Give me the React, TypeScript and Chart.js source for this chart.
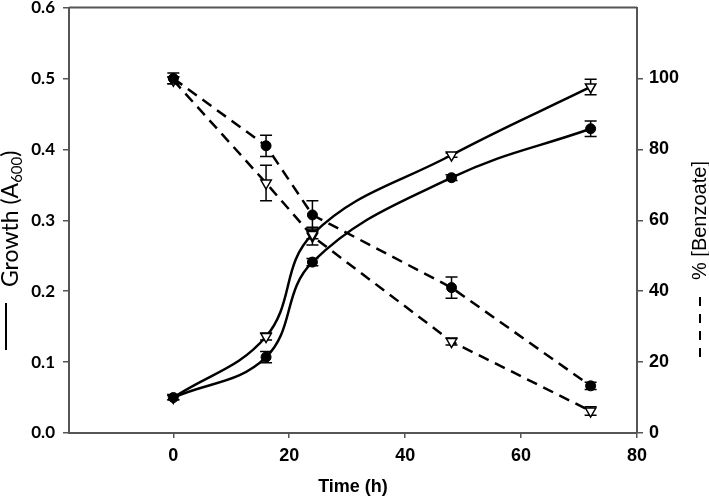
import { useEffect, useRef } from 'react';
import { Chart, registerables } from 'chart.js';

Chart.register(...registerables);

// ---- data ----
const timeHours = [0, 16, 24, 48, 72];
const xTicks = [0, 20, 40, 60, 80];
const leftTicks = [0, 0.1, 0.2, 0.3, 0.4, 0.5, 0.6];
const rightTicks = [0, 20, 40, 60, 80, 100];

const growthCircle = [0.05, 0.107, 0.241, 0.36, 0.429];
const growthCircleErr = [0.003, 0.008, 0.005, 0.004, 0.011];
const growthTriangle = [0.05, 0.136, 0.28, 0.392, 0.488];
const growthTriangleErr = [0.003, 0.005, 0.006, 0.003, 0.011];

const benzoateCircle = [100, 81, 61.5, 41, 13.3];
const benzoateCircleErr = [1.5, 3, 4, 3, 1];
const benzoateTriangle = [99.5, 70.5, 55.5, 25.8, 6.2];
const benzoateTriangleErr = [1, 5, 2.5, 1, 1.2];

const leftTitle = 'Growth (A';
const leftTitleSub = '600';
const leftTitleEnd = ')';
const rightTitle = '% [Benzoate]';
const xTitle = 'Time (h)';

const AXIS_COLOR = '#555555';

const pts = (ys: number[]) => timeHours.map((x, i) => ({ x, y: ys[i] }));

const errorBarPlugin = {
  id: 'errorBars',
  beforeDatasetsDraw(chart: any) {
    const ctx = chart.ctx;
    ctx.save();
    ctx.strokeStyle = '#000';
    ctx.lineWidth = 1.5;
    chart.data.datasets.forEach((ds: any) => {
      const errs: number[] = ds.errors;
      if (!errs) return;
      const xs = chart.scales.x;
      const ys = chart.scales[ds.yAxisID];
      ds.data.forEach((p: any, i: number) => {
        const e = errs[i];
        if (!e) return;
        const px = xs.getPixelForValue(p.x);
        const y1 = ys.getPixelForValue(p.y - e);
        const y2 = ys.getPixelForValue(p.y + e);
        ctx.beginPath();
        ctx.moveTo(px, y1);
        ctx.lineTo(px, y2);
        ctx.moveTo(px - 6, y1);
        ctx.lineTo(px + 6, y1);
        ctx.moveTo(px - 6, y2);
        ctx.lineTo(px + 6, y2);
        ctx.stroke();
      });
    });
    ctx.restore();
  },
};

const decorPlugin = {
  id: 'decor',
  afterDraw(chart: any) {
    const ctx = chart.ctx;
    const a = chart.chartArea;
    ctx.save();
    // top border
    ctx.strokeStyle = AXIS_COLOR;
    ctx.lineWidth = 2;
    ctx.beginPath();
    ctx.moveTo(a.left, a.top);
    ctx.lineTo(a.right, a.top);
    ctx.stroke();

    // x title
    ctx.fillStyle = '#000';
    ctx.font = 'bold 18px "Liberation Sans"';
    ctx.textAlign = 'center';
    ctx.textBaseline = 'middle';
    ctx.fillText(xTitle, (a.left + a.right) / 2, 487);

    // left title (rotated, reading upward)
    ctx.save();
    ctx.translate(18, 287);
    ctx.rotate(-Math.PI / 2);
    ctx.textAlign = 'left';
    ctx.textBaseline = 'alphabetic';
    ctx.font = '23px Lato';
    ctx.fillText(leftTitle, 0, 0);
    let w = ctx.measureText(leftTitle).width;
    ctx.font = '15px Lato';
    ctx.fillText(leftTitleSub, w, 4);
    w += ctx.measureText(leftTitleSub).width;
    ctx.font = '23px Lato';
    ctx.fillText(leftTitleEnd, w, 0);
    ctx.restore();
    // left legend line
    ctx.strokeStyle = '#000';
    ctx.lineWidth = 2;
    ctx.beginPath();
    ctx.moveTo(6, 303);
    ctx.lineTo(6, 350);
    ctx.stroke();

    // right title
    ctx.save();
    ctx.translate(706, 280);
    ctx.rotate(-Math.PI / 2);
    ctx.textAlign = 'left';
    ctx.textBaseline = 'alphabetic';
    ctx.font = '20px "Liberation Sans"';
    ctx.fillText(rightTitle, 0, 0);
    ctx.restore();
    // right legend dashes
    ctx.strokeStyle = '#000';
    ctx.lineWidth = 2;
    ctx.setLineDash([9, 8]);
    ctx.beginPath();
    ctx.moveTo(700, 297);
    ctx.lineTo(700, 358);
    ctx.stroke();
    ctx.restore();
  },
};

const noPad = (s: any) => {
  s.paddingTop = 0;
  s.paddingBottom = 0;
  s.paddingLeft = 0;
  s.paddingRight = 0;
};

export default function App() {
  const ref = useRef<HTMLCanvasElement>(null);

  useEffect(() => {
    if (!ref.current) return;
    const tickFontR = { family: '"Liberation Sans"', weight: 'bold' as const, size: 18 };
    const chart = new Chart(ref.current, {
      type: 'line',
      data: {
        datasets: [
          {
            data: pts(growthCircle),
            errors: growthCircleErr,
            yAxisID: 'y',
            borderColor: '#000',
            borderWidth: 2.5,
            tension: 0.4,
            pointStyle: 'circle',
            pointRadius: 5,
            pointBackgroundColor: '#000',
            pointBorderColor: '#000',
            pointBorderWidth: 1,
            fill: false,
          } as any,
          {
            data: pts(growthTriangle),
            errors: growthTriangleErr,
            yAxisID: 'y',
            borderColor: '#000',
            borderWidth: 2.5,
            tension: 0.4,
            pointStyle: 'triangle',
            pointRotation: 180,
            pointRadius: 6,
            pointBackgroundColor: '#fff',
            pointBorderColor: '#000',
            pointBorderWidth: 1.5,
            fill: false,
          } as any,
          {
            data: pts(benzoateCircle),
            errors: benzoateCircleErr,
            yAxisID: 'y2',
            borderColor: '#000',
            borderWidth: 2.5,
            borderDash: [11, 7],
            tension: 0,
            pointStyle: 'circle',
            pointRadius: 5,
            pointBackgroundColor: '#000',
            pointBorderColor: '#000',
            pointBorderWidth: 1,
            fill: false,
          } as any,
          {
            data: pts(benzoateTriangle),
            errors: benzoateTriangleErr,
            yAxisID: 'y2',
            borderColor: '#000',
            borderWidth: 2.5,
            borderDash: [11, 7],
            tension: 0,
            pointStyle: 'triangle',
            pointRotation: 180,
            pointRadius: 6,
            pointBackgroundColor: '#fff',
            pointBorderColor: '#000',
            pointBorderWidth: 1.5,
            fill: false,
          } as any,
        ],
      },
      options: {
        responsive: false,
        animation: false,
        events: [],
        layout: { padding: { left: 0, right: 0, top: 4, bottom: 0 } },
        plugins: { legend: { display: false }, tooltip: { enabled: false } },
        scales: {
          x: {
            type: 'linear',
            position: 'bottom',
            min: -18,
            max: 80,
            afterBuildTicks: (s: any) => {
              s.ticks = xTicks.map((v) => ({ value: v }));
            },
            afterFit: (s: any) => {
              s.height = 63;
              noPad(s);
            },
            grid: { drawOnChartArea: false, drawTicks: true, tickLength: 5, color: AXIS_COLOR, lineWidth: 1.5 },
            border: { display: true, color: AXIS_COLOR, width: 2 },
            ticks: { font: tickFontR, color: '#000', padding: 7, maxRotation: 0, autoSkip: false },
          },
          y: {
            type: 'linear',
            position: 'left',
            min: 0,
            max: 0.6,
            afterBuildTicks: (s: any) => {
              s.ticks = leftTicks.map((v) => ({ value: v }));
            },
            afterFit: (s: any) => {
              s.width = 69;
              noPad(s);
            },
            grid: { drawOnChartArea: false, drawTicks: true, tickLength: 6, color: AXIS_COLOR, lineWidth: 1.5 },
            border: { display: true, color: AXIS_COLOR, width: 2 },
            ticks: {
              font: { family: 'Lato', weight: 'bold', size: 17 },
              color: '#000',
              padding: 8,
              autoSkip: false,
              callback: (v: any) => Number(v).toFixed(1),
            },
          },
          y2: {
            type: 'linear',
            position: 'right',
            min: 0,
            max: 120,
            afterBuildTicks: (s: any) => {
              s.ticks = rightTicks.map((v) => ({ value: v }));
            },
            afterFit: (s: any) => {
              s.width = 72;
              noPad(s);
            },
            grid: { drawOnChartArea: false, drawTicks: true, tickLength: 6, color: AXIS_COLOR, lineWidth: 1.5 },
            border: { display: true, color: AXIS_COLOR, width: 2 },
            ticks: { font: tickFontR, color: '#000', padding: 6, autoSkip: false },
          },
        },
      } as any,
      plugins: [errorBarPlugin, decorPlugin],
    });
    return () => chart.destroy();
  }, []);

  return (
    <div style={{ position: 'fixed', left: 0, top: 0, width: 709, height: 496, background: '#fff' }}>
      <canvas ref={ref} width={709} height={496} style={{ display: 'block', width: 709, height: 496 }} />
    </div>
  );
}
